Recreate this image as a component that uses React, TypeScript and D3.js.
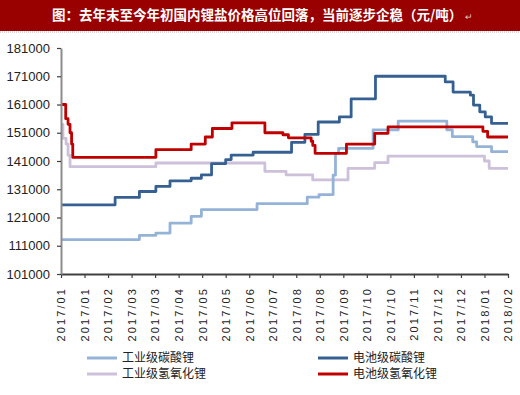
import React, { useEffect, useRef } from 'react';
import * as d3 from 'd3';

const width = 520;
const height = 395;
const margin = { top: 48, right: 11, bottom: 121, left: 61 };

const title = '图：去年末至今年初国内锂盐价格高位回落，当前逐步企稳（元/吨）';

// one tick every 3 weeks
const xLabels = [
  '2017/01', '2017/01', '2017/02', '2017/03', '2017/03', '2017/04', '2017/05',
  '2017/05', '2017/06', '2017/07', '2017/08', '2017/08', '2017/09', '2017/10',
  '2017/10', '2017/11', '2017/12', '2017/12', '2018/01', '2018/02',
];
const totalWeeks = 57;
const yTicks = [101000, 111000, 121000, 131000, 141000, 151000, 161000, 171000, 181000];

// [week, price] change points (step after)
const industrialCarbonate: [number, number][] = [
  [0, 113200], [10, 114700], [12.1, 115500], [13.9, 119000], [16.6, 121400],
  [17.9, 123800], [25, 125900], [31.4, 128200], [32.9, 129100], [34.7, 136000],
  [35, 143700], [35.4, 145500], [39.8, 152000], [43, 155100], [49.2, 152000],
  [49.9, 149600], [52.5, 147800], [53, 146100], [54.9, 144300], [57, 144300],
];
const batteryCarbonate: [number, number][] = [
  [0, 125500], [6.9, 128100], [10, 130200], [12.1, 132000], [13.9, 134000],
  [16.6, 134900], [17.9, 136100], [19.2, 140100], [21, 141500], [21.7, 143100],
  [24.5, 144100], [29.4, 147600], [31.1, 150400], [32.8, 154800], [35.5, 156600],
  [37, 163000], [40.1, 171000], [49, 169000], [50, 165400], [52.2, 164300],
  [52.6, 160800], [53.4, 158400], [54.1, 156600], [54.9, 154300], [57, 154300],
];
const industrialHydroxide: [number, number][] = [
  [0, 154000], [0.25, 149000], [0.65, 147000], [0.9, 143000], [1.15, 139000],
  [12.1, 140300], [26, 137300], [28.7, 136100], [32.1, 134300], [36.6, 138400],
  [40, 140400], [41.7, 142700], [54, 141000], [54.6, 138400], [57, 138400],
];
const batteryHydroxide: [number, number][] = [
  [0, 161000], [0.6, 156000], [0.9, 154000], [1.15, 151000], [1.35, 147000],
  [1.5, 142300], [12.1, 145000], [16.6, 147000], [18.4, 149500], [19.3, 152500],
  [21.8, 154500], [26, 151000], [28.3, 150300], [29, 149200], [31.9, 148000],
  [32.1, 146500], [32.4, 143700], [36.4, 147000], [40, 150800], [41.7, 153100],
  [53.8, 151500], [54.4, 149500], [57, 149500],
];

const seriesNames = ['工业级碳酸锂', '电池级碳酸锂', '工业级氢氧化锂', '电池级氢氧化锂'];
const seriesData = [industrialCarbonate, batteryCarbonate, industrialHydroxide, batteryHydroxide];
const seriesColors = ['#95b3d7', '#376092', '#ccc0da', '#c00000'];
const drawOrder = [2, 0, 1, 3];

const xScale = d3.scaleLinear().domain([0, totalWeeks]).range([margin.left, width - margin.right - 1]);
const yScale = d3.scaleLinear().domain([101000, 181000]).range([height - margin.bottom, margin.top]);
const lineGen = d3.line<[number, number]>()
  .x(d => xScale(d[0]))
  .y(d => yScale(d[1]))
  .curve(d3.curveStepAfter);

export default function App() {
  const xAxisRef = useRef<SVGGElement>(null);
  const yAxisRef = useRef<SVGGElement>(null);

  useEffect(() => {
    document.body.style.margin = '0';
    const xAxis = d3.axisBottom(xScale)
      .tickValues(xLabels.map((_, i) => i * 3))
      .tickFormat((_, i) => xLabels[i])
      .tickSize(4)
      .tickSizeOuter(0);
    const gx = d3.select(xAxisRef.current!).call(xAxis);
    gx.select('.domain').attr('stroke', '#404040').attr('stroke-width', 2);
    gx.selectAll('.tick line').attr('stroke', '#404040').attr('stroke-width', 1.2);
    gx.selectAll('.tick text')
      .attr('transform', 'rotate(-90)')
      .attr('x', -13)
      .attr('y', 0)
      .attr('dy', '0.35em')
      .style('text-anchor', 'end')
      .attr('fill', '#222')
      .attr('font-size', 11)
      .attr('letter-spacing', '2.1px')
      .attr('font-family', 'Liberation Sans, Arial, sans-serif');

    const yAxis = d3.axisLeft(yScale)
      .tickValues(yTicks)
      .tickFormat(d3.format('d'))
      .tickSize(4)
      .tickSizeOuter(0)
      .tickPadding(7);
    const gy = d3.select(yAxisRef.current!).call(yAxis);
    gy.select('.domain').attr('stroke', '#8c8c8c').attr('stroke-width', 2);
    gy.selectAll('.tick line').attr('stroke', '#404040').attr('stroke-width', 1.2);
    gy.selectAll('.tick text')
      .attr('fill', '#222')
      .attr('font-size', 13)
      .attr('font-family', 'Liberation Sans, Arial, sans-serif');
  }, []);

  const legendPos = [
    { x: 87, y: 358 }, { x: 318, y: 358 }, { x: 87, y: 374 }, { x: 318, y: 374 },
  ];

  return (
    <svg width={width} height={height} style={{ display: 'block', background: '#fff' }}>
      <rect x={0} y={0} width={width} height={31} fill="#990000" />
      <line x1={0} x2={width} y1={32} y2={32} stroke="#b0b0b0" strokeWidth={1} strokeDasharray="1 1" />
      <text x={52} y={20} fill="#fff" fontSize={13.5} fontWeight="bold"
        fontFamily="Noto Sans CJK SC, sans-serif">
        {title}
        <tspan fontSize={9} fontWeight="normal" fill="#e8c8c8" dx={3}>↵</tspan>
      </text>

      {drawOrder.map(i => (
        <path key={i} d={lineGen(seriesData[i]) || ''} fill="none"
          stroke={seriesColors[i]} strokeWidth={2.8} strokeLinejoin="round" />
      ))}

      <g ref={xAxisRef} transform={`translate(0, ${height - margin.bottom})`} />
      <g ref={yAxisRef} transform={`translate(${margin.left}, 0)`} />

      {seriesNames.map((name, i) => (
        <g key={name} transform={`translate(${legendPos[i].x}, ${legendPos[i].y})`}>
          <line x1={0} x2={30} y1={0} y2={0} stroke={seriesColors[i]} strokeWidth={3} />
          <text x={35} y={4} fontSize={12} fill="#222"
            fontFamily="Noto Sans CJK SC, sans-serif">{name}</text>
        </g>
      ))}
    </svg>
  );
}
